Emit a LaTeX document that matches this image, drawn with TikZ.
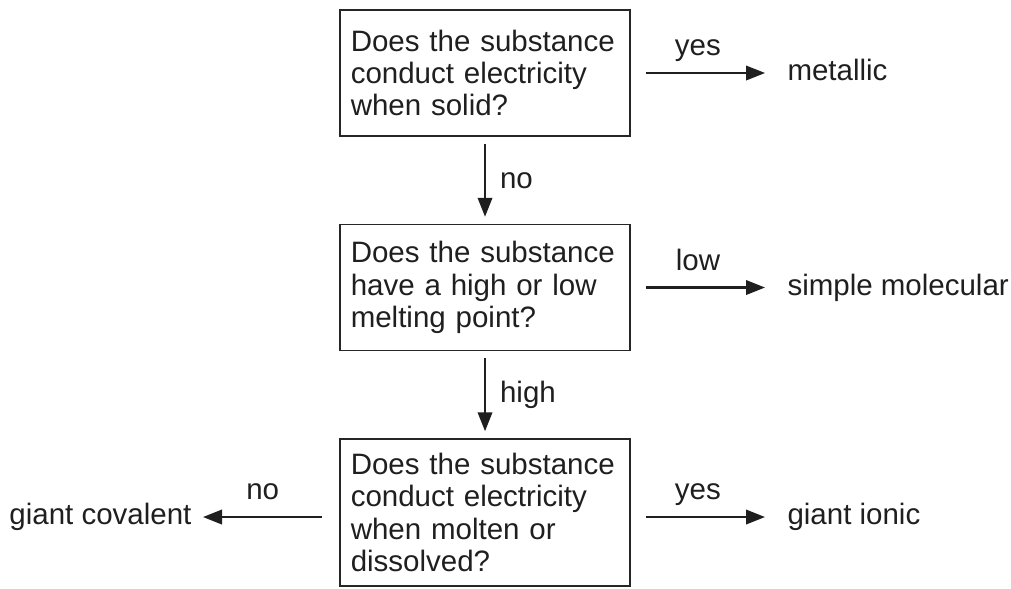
\documentclass[tikz,border=0pt]{standalone}
\usepackage{fontspec}
\setmainfont{Liberation Sans}
\usetikzlibrary{arrows.meta}

\tikzset{
  txt/.style={font=\fontsize{11.8}{12.9}\selectfont, text=black!88},
  question/.style={txt, draw=black!85, line width=0.6pt, text width=107.4pt,
    inner xsep=4.3pt, inner ysep=4.8pt, align=left, minimum height=50.4pt},
  result/.style={txt, inner sep=0pt, text height=8.5pt, text depth=2.5pt},
  choice/.style={txt, inner sep=0pt, anchor=base, yshift=7pt},
  sidechoice/.style={txt, inner sep=0pt, anchor=west, xshift=5.6pt},
  flow/.style={line width=0.85pt, draw=black!88, -{Triangle[length=7.6pt,width=5.8pt]}}
}

\begin{document}
\begin{tikzpicture}[x=0.4pt,y=-0.4pt]
  \useasboundingbox (0,0) rectangle (1011,588);
  % questions
  \node[question] (q1) at (485,73) {Does the substance\\ conduct electricity\\ when solid?};
  \node[question] (q2) at (485,287.5) {Does the substance\\ have a high or low\\ melting point?};
  \node[question,minimum height=58.8pt] (q3) at (485,512.5) {Does the substance\\ conduct electricity\\ when molten or\\ dissolved?};
  % answers
  \node[result,anchor=west] (metal) at (787,73) {metallic};
  \node[result,anchor=west] (molecular) at (787,287.5) {simple molecular};
  \node[result,anchor=west] (ionic) at (787,517) {giant ionic};
  \node[result,anchor=east] (covalent) at (192,517) {giant covalent};
  % arrows
  \draw[flow,shorten <=6pt,shorten >=8.8pt] (q1.east) -- (metal.west)
    node[choice,pos=0.43] {yes};
  \draw[flow,shorten <=2.8pt,shorten >=2.8pt] (q1.south) -- (q2.north)
    node[sidechoice,midway] {no};
  \draw[flow,shorten <=6pt,shorten >=8.8pt] (q2.east) -- (molecular.west)
    node[choice,pos=0.43] {low};
  \draw[flow,shorten <=2.8pt,shorten >=2.8pt] (q2.south) -- (q3.north)
    node[sidechoice,midway] {high};
  \draw[flow,shorten <=6pt,shorten >=8.8pt] (q3.east |- ionic.west) -- (ionic.west)
    node[choice,pos=0.43] {yes};
  \draw[flow,shorten <=6.8pt,shorten >=4.4pt] (q3.west |- covalent.east) -- (covalent.east)
    node[choice,pos=0.52] {no};
\end{tikzpicture}
\end{document}
